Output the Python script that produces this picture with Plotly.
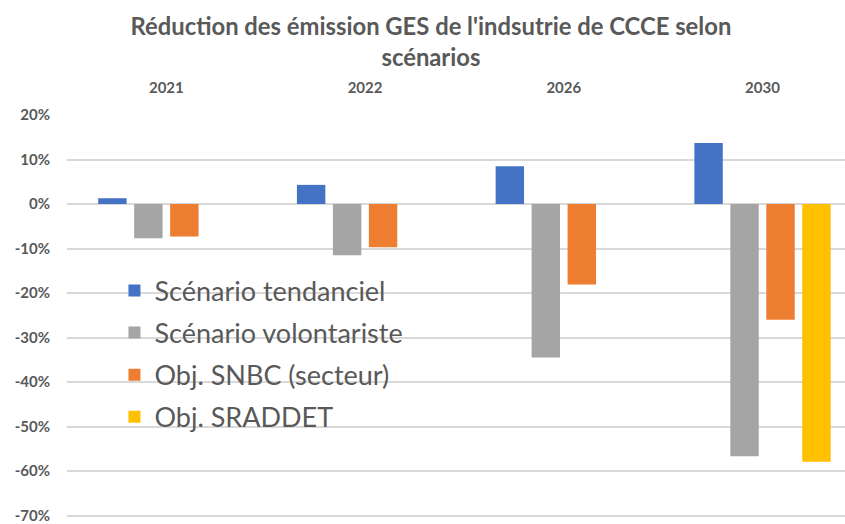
import plotly.graph_objects as go

# Years (categories) and reduction of GHG emissions per scenario (fraction)
years = ["2021", "2022", "2026", "2030"]
tendanciel = [0.013, 0.043, 0.085, 0.137]
volontariste = [-0.077, -0.115, -0.345, -0.567]
snbc = [-0.073, -0.097, -0.181, -0.260]
sraddet = [None, None, None, -0.579]

series_names = ["Scénario tendanciel", "Scénario volontariste",
                "Obj. SNBC (secteur)", "Obj. SRADDET"]
series_values = [tendanciel, volontariste, snbc, sraddet]
series_colors = ["#4472C4", "#A5A5A5", "#ED7D31", "#FFC000"]

y_tick_values = [0.2, 0.1, 0.0, -0.1, -0.2, -0.3, -0.4, -0.5, -0.6, -0.7]
y_tick_labels = ["20%", "10%", "0%", "-10%", "-20%", "-30%", "-40%", "-50%", "-60%", "-70%"]

FONT = "Lato"
TEXT_COLOR = "#595959"
GRID_COLOR = "#D9D9D9"

fig = go.Figure()
for i, (name, vals, color) in enumerate(zip(series_names, series_values, series_colors)):
    fig.add_trace(go.Bar(
        x=years, y=vals, name=name,
        marker=dict(color=color, line=dict(width=0)),
        legendgroup=f"g{i}",
    ))

fig.update_layout(
    width=845, height=524,
    margin=dict(l=67, r=0, t=115, b=1),
    paper_bgcolor="white", plot_bgcolor="white",
    barmode="group", bargap=0.276, bargroupgap=0.21,
    font=dict(family=FONT, color=TEXT_COLOR),
    title=dict(
        text="<b>Réduction des émission GES de l'indsutrie de CCCE selon<br>scénarios</b>",
        x=0.51, xanchor="center", xref="container",
        y=0.934, yanchor="middle", yref="container",
        font=dict(family=FONT, size=23.8, color=TEXT_COLOR),
    ),
    legend=dict(
        x=0.061, y=0.626, xanchor="left", yanchor="top",
        bgcolor="rgba(0,0,0,0)",
        font=dict(family=FONT, size=27, color=TEXT_COLOR),
        tracegroupgap=4, itemwidth=30,
    ),
    xaxis=dict(
        type="category", side="top", range=[-0.5, 3.415],
        showgrid=False, showline=False, ticks="", zeroline=False,
        tickfont=dict(family=FONT, size=15, color=TEXT_COLOR, weight="bold"),
        ticklabelstandoff=18,
    ),
    yaxis=dict(
        range=[-0.71, 0.2], tickvals=y_tick_values, ticktext=y_tick_labels,
        showgrid=True, gridcolor=GRID_COLOR, gridwidth=1.5,
        zeroline=True, zerolinecolor=GRID_COLOR, zerolinewidth=1.5,
        showline=False, ticks="", ticklabeloverflow="allow",
        tickfont=dict(family=FONT, size=15, color=TEXT_COLOR, weight="bold"),
        ticklabelstandoff=16,
    ),
)

fig.write_html("out.html")
